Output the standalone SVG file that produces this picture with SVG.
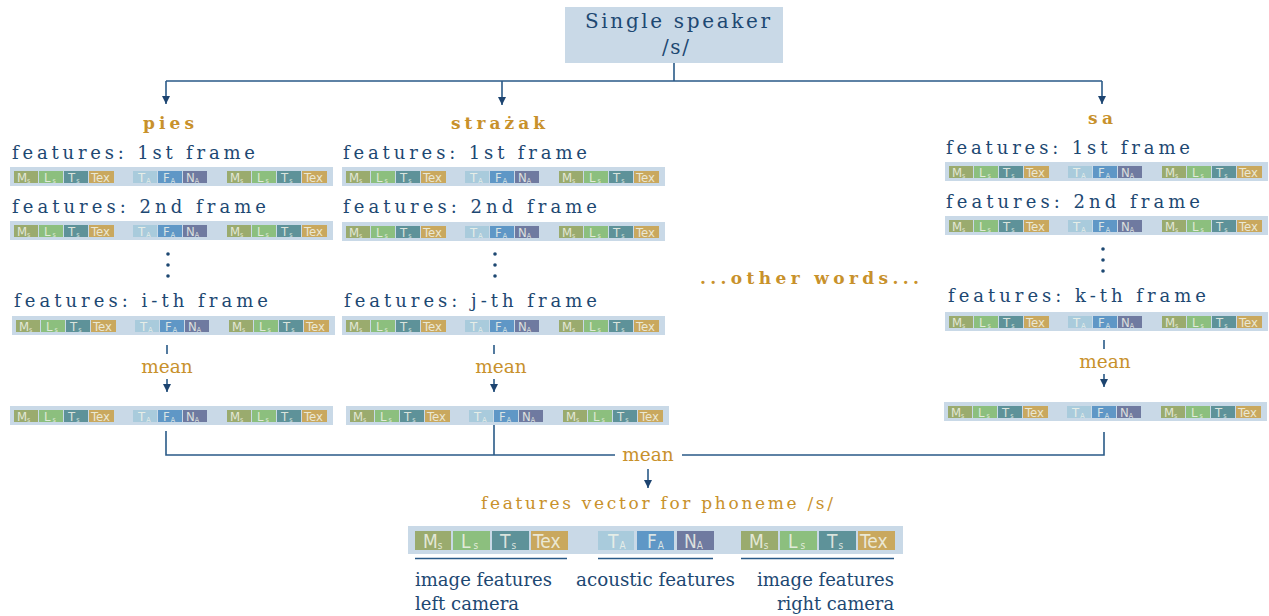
<svg xmlns="http://www.w3.org/2000/svg" xmlns:xlink="http://www.w3.org/1999/xlink" width="1269" height="616" viewBox="0 0 1269 616">
<style>
.hd{font-family:"DejaVu Serif","Liberation Serif",serif;font-size:18px;fill:#1d4872;}
.sp{font-family:"DejaVu Serif","Liberation Serif",serif;font-size:20px;fill:#1d4872;}
.wd{font-family:"DejaVu Serif","Liberation Serif",serif;font-size:17px;font-weight:bold;fill:#c8912b;}
.fv{font-family:"DejaVu Serif","Liberation Serif",serif;font-size:17px;font-weight:normal;fill:#c8912b;}
.mn{font-family:"DejaVu Serif","Liberation Serif",serif;font-size:18.5px;fill:#c8912b;text-anchor:middle;}
.lb{font-family:"DejaVu Serif","Liberation Serif",serif;font-size:18px;fill:#1d4872;}
.ct{font-family:"DejaVu Sans Condensed","Roboto","Liberation Sans",sans-serif;font-size:13px;fill:#f1f4ea;fill-opacity:0.85;}
.cb{font-family:"DejaVu Sans Condensed","Roboto","Liberation Sans",sans-serif;font-size:19px;fill:#f1f4ea;fill-opacity:0.85;}
.bg{fill:#c9d9e7;}
.ms{fill:#9aab6e;}
.ls{fill:#8cbf7e;}
.ts{fill:#5e9299;}
.tx{fill:#c9a85e;}
.ta{fill:#a9cbdc;}
.fa{fill:#5f97c6;}
.na{fill:#6f7aa0;}
.ln{fill:none;stroke:#2a5a88;stroke-width:1.6;}
.dot{fill:#1d4872;}
</style>
<defs>
<marker id="ah" viewBox="0 0 10 10" refX="10" refY="5" markerWidth="8" markerHeight="8" markerUnits="userSpaceOnUse" orient="auto"><path d="M0,0 L10,5 L0,10 z" fill="#1d4470"/></marker>
<symbol id="bar" overflow="visible">
<rect class="bg" x="0" y="0" width="323" height="19"/>
<rect class="ms" x="4" y="4" width="24" height="12"/>
<rect class="ls" x="29" y="4" width="24" height="12"/>
<rect class="ts" x="54" y="4" width="24" height="12"/>
<rect class="tx" x="79" y="4" width="25" height="12"/>
<rect class="ta" x="123" y="4" width="24" height="12"/>
<rect class="fa" x="148" y="4" width="24" height="12"/>
<rect class="na" x="173" y="4" width="24" height="12"/>
<rect class="ms" x="217" y="4" width="24" height="12"/>
<rect class="ls" x="242" y="4" width="24" height="12"/>
<rect class="ts" x="267" y="4" width="24" height="12"/>
<rect class="tx" x="292" y="4" width="25" height="12"/>
<text class="ct" x="7" y="15">M<tspan font-size="7" dy="0.5">s</tspan></text>
<text class="ct" x="34" y="15">L<tspan font-size="7" dx="2" dy="0.5">s</tspan></text>
<text class="ct" x="58" y="15">T<tspan font-size="7" dx="1" dy="0.5">s</tspan></text>
<text class="ct" x="81" y="15">Tex</text>
<text class="ct" x="128" y="15">T<tspan font-size="7" dx="1" dy="0.5">A</tspan></text>
<text class="ct" x="153" y="15">F<tspan font-size="7" dx="1" dy="0.5">A</tspan></text>
<text class="ct" x="176" y="15">N<tspan font-size="7" dy="0.5">A</tspan></text>
<text class="ct" x="220" y="15">M<tspan font-size="7" dy="0.5">s</tspan></text>
<text class="ct" x="247" y="15">L<tspan font-size="7" dx="2" dy="0.5">s</tspan></text>
<text class="ct" x="271" y="15">T<tspan font-size="7" dx="1" dy="0.5">s</tspan></text>
<text class="ct" x="294" y="15">Tex</text>
</symbol>
</defs>
<rect width="1269" height="616" fill="#ffffff"/>

<g id="speaker">
<rect class="bg" x="565" y="7" width="218" height="56"/>
<text class="sp" x="585" y="28" textLength="185" lengthAdjust="spacing">Single speaker</text>
<text class="sp" x="662" y="54" textLength="27" lengthAdjust="spacing">/s/</text>
</g>

<g id="word-pies">
<text class="wd" x="143" y="129" textLength="51" lengthAdjust="spacing">pies</text>
<text class="hd" x="12" y="159" textLength="243" lengthAdjust="spacing">features: 1st frame</text>
<use xlink:href="#bar" x="10" y="167"/>
<text class="hd" x="12" y="213" textLength="254" lengthAdjust="spacing">features: 2nd frame</text>
<use xlink:href="#bar" x="10" y="221"/>
<circle class="dot" cx="168" cy="254" r="1.8"/><circle class="dot" cx="168" cy="265" r="1.8"/><circle class="dot" cx="168" cy="276" r="1.8"/>
<text class="hd" x="14" y="307" textLength="254" lengthAdjust="spacing">features: i-th frame</text>
<use xlink:href="#bar" x="12" y="316"/>
</g>
<g id="mean-pies">
<text class="mn" x="167" y="373">mean</text>
<use xlink:href="#bar" x="10" y="406"/>
</g>

<g id="word-strazak">
<text class="wd" x="451" y="129" textLength="94" lengthAdjust="spacing">strażak</text>
<text class="hd" x="343" y="159" textLength="244" lengthAdjust="spacing">features: 1st frame</text>
<use xlink:href="#bar" x="342" y="167"/>
<text class="hd" x="343" y="213" textLength="254" lengthAdjust="spacing">features: 2nd frame</text>
<use xlink:href="#bar" x="342" y="222"/>
<circle class="dot" cx="495" cy="254" r="1.8"/><circle class="dot" cx="495" cy="265" r="1.8"/><circle class="dot" cx="495" cy="276" r="1.8"/>
<text class="hd" x="344" y="307" textLength="253" lengthAdjust="spacing">features: j-th frame</text>
<use xlink:href="#bar" x="342" y="316"/>
</g>
<g id="mean-strazak">
<text class="mn" x="501" y="373">mean</text>
<use xlink:href="#bar" x="346" y="406"/>
</g>

<g id="other-words">
<text class="wd" x="700" y="284" textLength="219" lengthAdjust="spacing">...other words...</text>
</g>

<g id="word-sa">
<text class="wd" x="1088" y="124" textLength="25" lengthAdjust="spacing">sa</text>
<text class="hd" x="946" y="154" textLength="244" lengthAdjust="spacing">features: 1st frame</text>
<use xlink:href="#bar" x="945" y="162"/>
<text class="hd" x="946" y="208" textLength="254" lengthAdjust="spacing">features: 2nd frame</text>
<use xlink:href="#bar" x="945" y="216"/>
<circle class="dot" cx="1103" cy="249" r="1.8"/><circle class="dot" cx="1103" cy="260" r="1.8"/><circle class="dot" cx="1103" cy="271" r="1.8"/>
<text class="hd" x="948" y="302" textLength="258" lengthAdjust="spacing">features: k-th frame</text>
<use xlink:href="#bar" x="945" y="312"/>
</g>
<g id="mean-sa">
<text class="mn" x="1105" y="368">mean</text>
<use xlink:href="#bar" x="944" y="402"/>
</g>

<g id="mean-all">
<text class="mn" x="648" y="461">mean</text>
</g>

<g id="phoneme-vector">
<text class="fv" x="481" y="509" textLength="352" lengthAdjust="spacing">features vector for phoneme /s/</text>
<rect class="bg" x="408" y="526" width="495" height="28"/>
<rect class="ms" x="415" y="531" width="36" height="19"/>
<rect class="ls" x="453" y="531" width="37" height="19"/>
<rect class="ts" x="492" y="531" width="37" height="19"/>
<rect class="tx" x="531" y="531" width="37" height="19"/>
<rect class="ta" x="598" y="531" width="36" height="19"/>
<rect class="fa" x="637" y="531" width="37" height="19"/>
<rect class="na" x="677" y="531" width="37" height="19"/>
<rect class="ms" x="741" y="531" width="37" height="19"/>
<rect class="ls" x="780" y="531" width="37" height="19"/>
<rect class="ts" x="819" y="531" width="37" height="19"/>
<rect class="tx" x="858" y="531" width="37" height="19"/>
<text class="cb" x="423" y="548">M<tspan font-size="10" dy="1">s</tspan></text>
<text class="cb" x="461" y="548">L<tspan font-size="10" dx="3" dy="1">s</tspan></text>
<text class="cb" x="500" y="548">T<tspan font-size="10" dx="1" dy="1">s</tspan></text>
<text class="cb" x="533" y="548">Tex</text>
<text class="cb" x="608" y="548">T<tspan font-size="10" dx="1" dy="1">A</tspan></text>
<text class="cb" x="647" y="548">F<tspan font-size="10" dx="1" dy="1">A</tspan></text>
<text class="cb" x="684" y="548">N<tspan font-size="10" dy="1">A</tspan></text>
<text class="cb" x="749" y="548">M<tspan font-size="10" dy="1">s</tspan></text>
<text class="cb" x="788" y="548">L<tspan font-size="10" dx="3" dy="1">s</tspan></text>
<text class="cb" x="827" y="548">T<tspan font-size="10" dx="1" dy="1">s</tspan></text>
<text class="cb" x="860" y="548">Tex</text>
<path class="ln" d="M415,558.5 H567 M598,558.5 H713 M741,558.5 H894" stroke-width="1.4"/>
<text class="lb" x="415" y="586" textLength="137" lengthAdjust="spacingAndGlyphs">image features</text>
<text class="lb" x="415" y="610" textLength="104" lengthAdjust="spacingAndGlyphs">left camera</text>
<text class="lb" x="576" y="586" textLength="159" lengthAdjust="spacingAndGlyphs">acoustic features</text>
<text class="lb" x="757" y="586" textLength="137" lengthAdjust="spacingAndGlyphs">image features</text>
<text class="lb" x="777" y="610" textLength="117" lengthAdjust="spacingAndGlyphs">right camera</text>
</g>

<g id="connectors">
<path class="ln" d="M674,63 V81 M166,81 H1102"/>
<path class="ln" d="M166,81 V104" marker-end="url(#ah)"/>
<path class="ln" d="M502,81 V105" marker-end="url(#ah)"/>
<path class="ln" d="M1102,81 V104" marker-end="url(#ah)"/>
<path class="ln" d="M167,345 V354 M494,345 V354 M1104,340 V349"/>
<path class="ln" d="M167,379 V392" marker-end="url(#ah)"/>
<path class="ln" d="M494,379 V392" marker-end="url(#ah)"/>
<path class="ln" d="M1104,374 V387" marker-end="url(#ah)"/>
<path class="ln" d="M166,431 V455 H615 M494,425 V455 M682,455 H1104 V432"/>
<path class="ln" d="M648,469 V488" marker-end="url(#ah)"/>
</g>
</svg>
